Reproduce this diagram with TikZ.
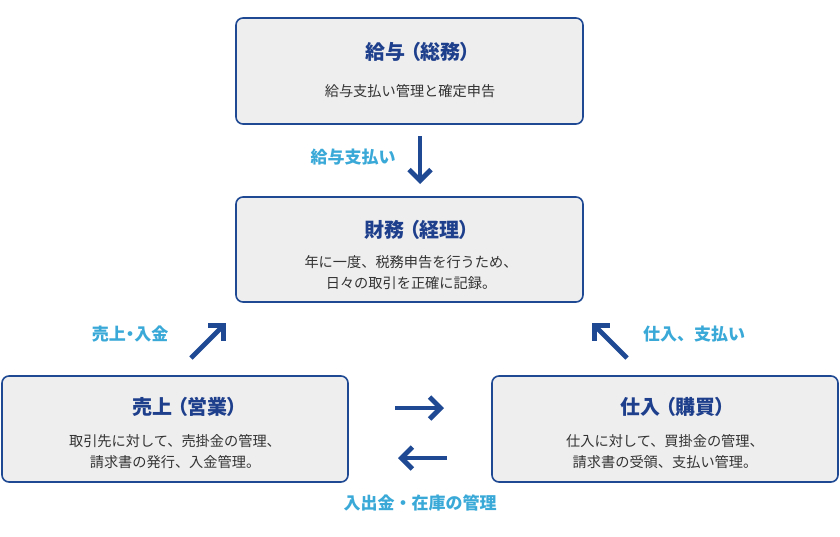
\documentclass[tikz,border=0pt]{standalone}
\usepackage{fontspec}
\setmainfont{Noto Sans CJK JP}[RawFeature=+palt]
\newfontfamily\jpfull{Noto Sans CJK JP}
\usetikzlibrary{arrows.meta}
\definecolor{navy}{HTML}{1F4A93}
\definecolor{titleblue}{HTML}{1E3F8C}
\definecolor{boxfill}{HTML}{EEEEEF}
\definecolor{cyanlbl}{HTML}{3AA9D8}
\definecolor{bodytxt}{HTML}{333333}
\tikzset{
  box/.style={draw=navy, line width=1.6pt, fill=boxfill, rounded corners=7pt},
  ttl/.style={text=titleblue, font=\fontsize{20}{23}\selectfont\bfseries},
  body/.style={text=bodytxt, font=\jpfull\fontsize{14.2}{21}\selectfont, align=center},
  lbl/.style={text=cyanlbl, font=\jpfull\fontsize{17}{20}\selectfont\bfseries},
  flow/.style={draw=navy, line width=4.8pt, -{Straight Barb[length=11pt,width=22pt,line width=4.8pt]}}
}
\newcommand{\tsp}{\hspace{5pt}}
\begin{document}
\begin{tikzpicture}[x=1pt,y=-1pt]
\useasboundingbox (0,0) rectangle (840,536);
% boxes
\path[box] (236,18) rectangle (583,124); \node (top) at (409.5,71) {};
\path[box] (236,197) rectangle (583,302); \node (mid) at (409.5,250) {};
\path[box] (2,376) rectangle (348,482); \node (left) at (175,429) {};
\path[box] (492,376) rectangle (838,482); \node (right) at (665,429) {};
% texts
\node[ttl] (t1) at (418,52) {給与\tsp（総務）};
\node[body] (b1) at (410,91) {給与支払い管理と確定申告};
\node[ttl] (t2) at (417,230) {財務\tsp（経理）};
\node[body] (b2) at (411,273) {年に一度、税務申告を行うため、\\日々の取引を正確に記録。};
\node[ttl] (t3) at (185,407) {売上\tsp（営業）};
\node[body] (b3) at (175,452) {取引先に対して、売掛金の管理、\\請求書の発行、入金管理。};
\node[ttl] (t4) at (673,407) {仕入\tsp（購買）};
\node[body] (b4) at (665,452) {仕入に対して、買掛金の管理、\\請求書の受領、支払い管理。};
% arrows
\coordinate (a1s) at (420,136); \coordinate (a1e) at (420,184);
\draw[flow] (a1s) -- (a1e);
\coordinate (a2s) at (191,358); \coordinate (a2e) at (226,323);
\draw[flow] (a2s) -- (a2e);
\coordinate (a3s) at (627,358); \coordinate (a3e) at (592,323);
\draw[flow] (a3s) -- (a3e);
\coordinate (a4s) at (395,408); \coordinate (a4e) at (444,408);
\draw[flow] (a4s) -- (a4e);
\coordinate (a5s) at (447,458); \coordinate (a5e) at (398,458);
\draw[flow] (a5s) -- (a5e);
% labels
\node[lbl] (l1) at (353,157) {給与支払い};
\node[lbl,font=\fontsize{17}{20}\selectfont\bfseries] (l2) at (130,334) {売上・入金};
\node[lbl] (l3) at (694,334) {仕入、支払い};
\node[lbl] (l4) at (420,503) {入出金・在庫の管理};
\end{tikzpicture}
\end{document}
